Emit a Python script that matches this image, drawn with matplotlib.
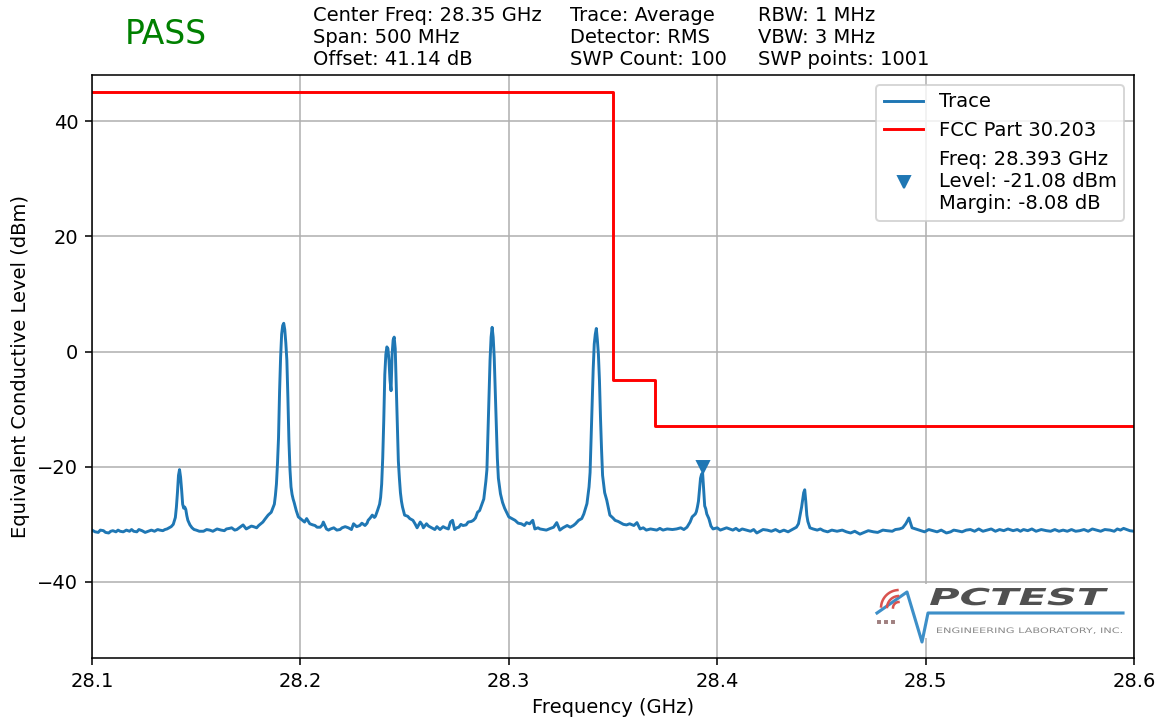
import matplotlib
matplotlib.use('Agg')
import matplotlib.pyplot as plt
import matplotlib.transforms as mtransforms
from matplotlib.lines import Line2D
from matplotlib.patches import PathPatch, Rectangle
from matplotlib.textpath import TextPath
from matplotlib.font_manager import FontProperties
import numpy as np

W, H, DPI = 1162, 719, 140

trace_freq = [
    28.1000, 28.1030, 28.1055, 28.1080, 28.1100, 28.1135, 28.1165, 28.1200, 28.1225, 28.1255,
    28.1285, 28.1325, 28.1360, 28.1380, 28.1390, 28.1400, 28.1405, 28.1410, 28.1415, 28.1420,
    28.1425, 28.1430, 28.1435, 28.1440, 28.1445, 28.1450, 28.1455, 28.1460, 28.1470, 28.1480,
    28.1500, 28.1535, 28.1565, 28.1600, 28.1620, 28.1645, 28.1670, 28.1695, 28.1725, 28.1750,
    28.1775, 28.1800, 28.1820, 28.1845, 28.1860, 28.1870, 28.1875, 28.1880, 28.1885, 28.1890,
    28.1895, 28.1900, 28.1905, 28.1910, 28.1915, 28.1920, 28.1925, 28.1930, 28.1935, 28.1940,
    28.1945, 28.1950, 28.1955, 28.1960, 28.1965, 28.1970, 28.1980, 28.1990, 28.2000, 28.2010,
    28.2030, 28.2045, 28.2070, 28.2095, 28.2110, 28.2125, 28.2135, 28.2160, 28.2175, 28.2200,
    28.2230, 28.2255, 28.2270, 28.2295, 28.2310, 28.2325, 28.2345, 28.2360, 28.2370, 28.2380,
    28.2385, 28.2390, 28.2395, 28.2400, 28.2405, 28.2410, 28.2415, 28.2420, 28.2425, 28.2430,
    28.2435, 28.2440, 28.2445, 28.2450, 28.2455, 28.2460, 28.2465, 28.2470, 28.2475, 28.2480,
    28.2485, 28.2490, 28.2500, 28.2525, 28.2540, 28.2560, 28.2575, 28.2590, 28.2605, 28.2630,
    28.2655, 28.2670, 28.2695, 28.2720, 28.2730, 28.2740, 28.2760, 28.2780, 28.2805, 28.2830,
    28.2850, 28.2860, 28.2880, 28.2890, 28.2895, 28.2900, 28.2905, 28.2910, 28.2915, 28.2920,
    28.2925, 28.2930, 28.2935, 28.2940, 28.2945, 28.2950, 28.2960, 28.2970, 28.2980, 28.3000,
    28.3030, 28.3060, 28.3085, 28.3115, 28.3125, 28.3150, 28.3180, 28.3215, 28.3230, 28.3245,
    28.3280, 28.3310, 28.3335, 28.3360, 28.3375, 28.3380, 28.3385, 28.3390, 28.3395, 28.3400,
    28.3405, 28.3410, 28.3415, 28.3420, 28.3425, 28.3430, 28.3435, 28.3440, 28.3445, 28.3450,
    28.3460, 28.3470, 28.3480, 28.3485, 28.3510, 28.3535, 28.3565, 28.3600, 28.3615, 28.3630,
    28.3680, 28.3710, 28.3760, 28.3805, 28.3855, 28.3880, 28.3895, 28.3900, 28.3905, 28.3910,
    28.3915, 28.3920, 28.3925, 28.3930, 28.3935, 28.3940, 28.3945, 28.3950, 28.3960, 28.3970,
    28.3980, 28.4030, 28.4060, 28.4140, 28.4190, 28.4240, 28.4300, 28.4365, 28.4390, 28.4400,
    28.4405, 28.4410, 28.4415, 28.4420, 28.4425, 28.4430, 28.4435, 28.4445, 28.4460, 28.4510,
    28.4575, 28.4620, 28.4685, 28.4750, 28.4815, 28.4875, 28.4905, 28.4920, 28.4935, 28.4975,
    28.5035, 28.5100, 28.5150, 28.5215, 28.5295, 28.5355, 28.5420, 28.5470, 28.5580, 28.5660,
    28.5740, 28.5820, 28.5885, 28.5950, 28.6000,
]
trace_level = [
    -31.0, -31.4, -31.1, -31.5, -31.1, -31.2, -31.0, -31.2, -30.9, -31.4,
    -31.0, -31.0, -30.8, -30.4, -30.0, -28.8, -27.0, -24.5, -21.5, -20.5,
    -21.8, -24.0, -26.5, -27.2, -27.0, -27.4, -28.5, -29.3, -30.1, -30.6,
    -31.0, -31.2, -31.0, -30.8, -31.0, -30.8, -30.6, -30.9, -30.1, -30.6,
    -30.4, -30.2, -29.6, -28.4, -27.9, -27.0, -26.5, -25.0, -23.0, -19.5,
    -15.0, -7.0, -1.0, 3.0, 4.5, 4.9, 3.8, 1.5, -1.5, -8.0,
    -15.5, -20.5, -23.5, -24.8, -25.6, -26.2, -27.6, -28.7, -29.0, -29.3,
    -29.0, -29.9, -30.2, -30.5, -29.6, -30.8, -31.0, -30.6, -31.0, -30.6,
    -30.6, -29.9, -30.4, -29.8, -30.2, -29.3, -28.4, -28.6, -27.6, -26.5,
    -25.3, -23.0, -18.5, -12.0, -4.0, -0.5, 0.8, 0.5, -1.5, -5.0,
    -6.8, -0.5, 2.0, 2.5, 0.5, -6.0, -13.0, -19.0, -22.0, -24.5,
    -26.0, -27.0, -28.4, -29.0, -29.3, -30.6, -29.6, -30.6, -29.9, -30.6,
    -30.4, -30.9, -30.6, -29.6, -29.3, -30.9, -30.5, -30.2, -29.6, -29.3,
    -27.9, -27.6, -25.6, -22.5, -20.5, -14.0, -8.0, -1.5, 2.5, 4.2,
    2.5, -1.0, -7.0, -12.5, -18.5, -22.0, -24.7, -26.2, -27.2, -28.7,
    -29.3, -29.9, -29.7, -29.3, -30.8, -30.8, -31.0, -30.5, -29.7, -31.0,
    -30.2, -30.2, -29.3, -28.2, -26.4, -25.0, -23.5, -21.0, -15.0, -9.0,
    -3.0, 1.3, 3.0, 4.0, 2.0, -0.5, -5.0, -11.5, -17.0, -21.5,
    -24.5, -25.8, -27.5, -28.4, -29.3, -29.7, -30.1, -30.2, -29.7, -30.8,
    -30.8, -31.0, -30.8, -30.8, -30.5, -28.7, -28.2, -27.8, -27.0, -26.0,
    -24.0, -22.0, -21.3, -21.08, -24.0, -26.8, -27.3, -28.2, -29.0, -30.3,
    -30.8, -30.8, -30.8, -31.0, -31.5, -31.0, -31.3, -30.8, -29.9, -28.0,
    -27.0, -25.8, -24.5, -24.0, -26.0, -28.4, -29.5, -30.6, -30.8, -31.1,
    -31.2, -31.3, -31.7, -31.3, -31.1, -30.8, -29.9, -28.9, -30.6, -31.1,
    -31.1, -31.5, -31.1, -30.9, -31.0, -30.9, -31.1, -30.9, -31.1, -31.0,
    -31.1, -31.0, -31.0, -30.7, -31.2,
]

# extra noise-floor readings between the points above
floor_freq = [
    28.1015, 28.1040, 28.1065, 28.1090, 28.1115, 28.1125, 28.1150, 28.1180, 28.1190, 28.1215,
    28.1240, 28.1270, 28.1300, 28.1315, 28.1340, 28.1350,
    28.1490, 28.1515, 28.1550, 28.1580, 28.1610, 28.1635, 28.1660, 28.1685, 28.1710, 28.1740,
    28.1765, 28.1790, 28.1810, 28.1830,
    28.2020, 28.2060, 28.2080, 28.2105, 28.2145, 28.2190, 28.2215, 28.2245, 28.2285, 28.2320,
    28.2335, 28.2355,
    28.2515, 28.2550, 28.2585, 28.2615, 28.2645, 28.2685, 28.2710, 28.2750, 28.2770, 28.2795,
    28.2820, 28.2840,
    28.3015, 28.3045, 28.3075, 28.3100, 28.3140, 28.3165, 28.3200, 28.3260, 28.3295, 28.3320,
    28.3350,
    28.3500, 28.3525, 28.3550, 28.3580, 28.3645, 28.3660, 28.3695, 28.3725, 28.3740, 28.3785,
    28.3825, 28.3840, 28.3870,
    28.4000, 28.4015, 28.4045, 28.4075, 28.4090, 28.4105, 28.4120, 28.4160, 28.4175, 28.4205,
    28.4220, 28.4260, 28.4280, 28.4320, 28.4340, 28.4380,
    28.4480, 28.4495, 28.4530, 28.4550, 28.4600, 28.4640, 28.4660, 28.4705, 28.4725, 28.4770,
    28.4795, 28.4840, 28.4855, 28.4890,
    28.4960, 28.4995, 28.5015, 28.5055, 28.5075, 28.5120, 28.5135, 28.5175, 28.5195, 28.5235,
    28.5255, 28.5275, 28.5315, 28.5335, 28.5375, 28.5395, 28.5440, 28.5455, 28.5490, 28.5510,
    28.5530, 28.5555, 28.5600, 28.5620, 28.5640, 28.5680, 28.5700, 28.5720, 28.5760, 28.5780,
    28.5800, 28.5840, 28.5860, 28.5905, 28.5920, 28.5935, 28.5965, 28.5980,
]
floor_level = [
    -31.3, -31.0, -31.4, -31.2, -31.3, -31.0, -31.3, -31.2, -30.9, -31.3,
    -31.1, -31.2, -31.2, -30.9, -31.1, -30.9,
    -30.9, -31.2, -30.9, -31.2, -30.9, -31.1, -30.7, -31.0, -30.5, -30.8,
    -30.3, -30.6, -29.9, -29.1,
    -29.6, -30.1, -30.5, -30.1, -30.8, -30.9, -30.4, -30.9, -30.2, -29.8,
    -28.9, -28.8,
    -28.6, -29.9, -30.1, -30.3, -30.9, -30.4, -30.8, -30.6, -30.0, -30.1,
    -29.5, -28.9,
    -29.0, -29.8, -30.2, -29.9, -30.6, -30.9, -30.7, -30.6, -30.5, -29.9,
    -29.0,
    -28.9, -29.5, -30.0, -29.9, -30.6, -31.0, -30.9, -30.7, -31.0, -30.9,
    -30.6, -30.9, -29.6,
    -30.6, -31.0, -30.6, -31.0, -30.7, -31.1, -30.8, -31.2, -30.9, -31.2,
    -30.9, -31.2, -30.9, -31.0, -31.3, -30.5,
    -31.0, -30.8, -31.3, -31.0, -31.0, -31.5, -31.2, -31.4, -31.1, -31.4,
    -31.0, -31.2, -30.9, -30.6,
    -30.9, -31.3, -30.9, -31.3, -31.0, -31.3, -31.0, -31.3, -31.0, -31.2,
    -30.8, -31.2, -30.8, -31.2, -31.1, -30.8, -30.9, -31.2, -31.1, -30.8,
    -31.2, -30.9, -31.2, -30.9, -31.2, -31.2, -30.9, -31.2, -30.9, -31.2,
    -30.8, -31.2, -30.9, -31.2, -30.8, -31.0, -30.9, -31.1,
]

# FCC limit mask (step edges)
limit_freq = [28.10, 28.35, 28.37, 28.60]
limit_level = [45, -5, -13, -13]

# peak marker
marker_freq = 28.393
marker_level = -21.08
marker_margin = -8.08

x_ticks = [28.1, 28.2, 28.3, 28.4, 28.5, 28.6]
y_ticks = [-40, -20, 0, 20, 40]

header_cols = [
    "Center Freq: 28.35 GHz\nSpan: 500 MHz\nOffset: 41.14 dB",
    "Trace: Average\nDetector: RMS\nSWP Count: 100",
    "RBW: 1 MHz\nVBW: 3 MHz\nSWP points: 1001",
]
header_x = [313, 570, 758]

# merge the two sets of readings in frequency order
f_all = np.array(trace_freq + floor_freq)
l_all = np.array(trace_level + floor_level)
order = np.argsort(f_all)
f_all = f_all[order]
l_all = l_all[order]

fig = plt.figure(figsize=(W / DPI, H / DPI), dpi=DPI)
ax = fig.add_axes([92 / W, 1 - 658 / H, (1134 - 92) / W, (658 - 75) / H])

ax.plot(f_all, l_all, color='#1f77b4', lw=1.5, label='Trace')
ax.step(limit_freq, limit_level, where='post', color='red', lw=1.5,
        label='FCC Part 30.203')
mk_label = 'Freq: %.3f GHz\nLevel: %.2f dBm\nMargin: %.2f dB' % (
    marker_freq, marker_level, marker_margin)
ax.plot([marker_freq], [marker_level + 1], 'v', color='#1f77b4', ls='none',
        label=mk_label)

ax.set_xlim(28.1, 28.6)
ax.set_ylim(-53.2, 48)
ax.set_xticks(x_ticks)
ax.set_xticklabels(['%.1f' % t for t in x_ticks])
ax.set_yticks(y_ticks)
ax.grid(True)
ax.set_xlabel('Frequency (GHz)')
ax.set_ylabel('Equivalent Conductive Level (dBm)')
ax.legend(loc='upper right')

# header
fig.text(125 / W, 1 - 44 / H, 'PASS', color='green', fontsize=17, va='baseline')
for xx, txt in zip(header_x, header_cols):
    fig.text(xx / W, 1 - 6 / H, txt, fontsize=10, va='top', ha='left')

# ---- logo, drawn in pixel coords (origin top-left) ----
pix = mtransforms.Affine2D().scale(1, -1).translate(0, H)

fig.add_artist(Rectangle((871, 584), 256, 54, transform=pix, facecolor='white',
                         edgecolor='none', zorder=3))


def text_patch(s, x0, x1, base, cap, color, weight='bold', style='italic'):
    fp = FontProperties(family='DejaVu Sans', weight=weight, style=style)
    tp = TextPath((0, 0), s, size=1, prop=fp)
    ext = tp.get_extents()
    sx = (x1 - x0) / ext.width
    sy = cap / 0.73
    tr = mtransforms.Affine2D().translate(-ext.x0, 0).scale(sx, sy).translate(x0, H - base)
    fig.add_artist(PathPatch(tp, transform=tr, facecolor=color, edgecolor='none', zorder=4))


text_patch('PCTEST', 930, 1108, 605, 17, '#505050')
text_patch('ENGINEERING LABORATORY, INC.', 937, 1122, 633, 5.5, '#8a8a8a',
           weight='normal', style='normal')

fig.add_artist(Line2D([877, 907, 922, 928, 1123], [613, 592, 642, 613, 613],
                      transform=pix, color='#3d8fc8', lw=1.6, zorder=4))
for r in [6, 12, 18]:
    a = np.radians(np.linspace(95, 175, 20))
    fig.add_artist(Line2D(899 + r * np.cos(a), 608 - r * np.sin(a), transform=pix,
                          color='#d9534f', lw=1.3, zorder=4))
fig.add_artist(Line2D([879, 886, 893], [622, 622, 622], transform=pix, ls='none',
                      marker='s', ms=1.5, color='#a08080', zorder=4))

fig.savefig('out.png', dpi=DPI)
